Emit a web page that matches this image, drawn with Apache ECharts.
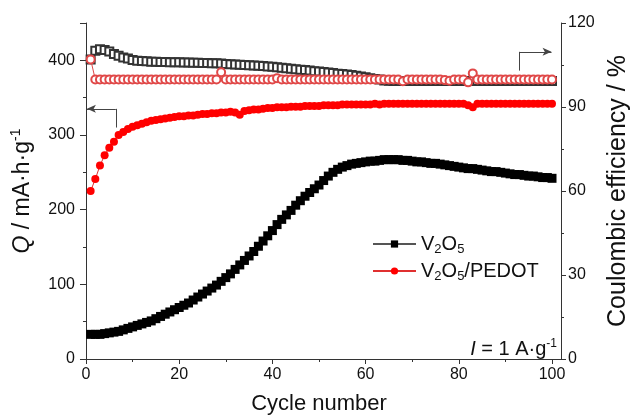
<!DOCTYPE html>
<html><head><meta charset="utf-8">
<script src="https://cdn.jsdelivr.net/npm/echarts@6/dist/echarts.min.js"></script>
<style>html,body{margin:0;padding:0;background:#fff}#c{width:630px;height:416px}</style>
</head><body><div id="c"></div>
<script>
const cycles = [1,2,3,4,5,6,7,8,9,10,11,12,13,14,15,16,17,18,19,20,21,22,23,24,25,26,27,28,29,30,31,32,33,34,35,36,37,38,39,40,41,42,43,44,45,46,47,48,49,50,51,52,53,54,55,56,57,58,59,60,61,62,63,64,65,66,67,68,69,70,71,72,73,74,75,76,77,78,79,80,81,82,83,84,85,86,87,88,89,90,91,92,93,94,95,96,97,98,99,100];
const capV2O5 = [33,33,33,34,35,36,37,39,41,43,
45,47,49,51,54,57,60,63,66,69,
72,75,79,83,87,91,95,99,104,109,
114,120,126,132,138,144,151,158,165,172,
180,187,193,199,206,212,218,223,228,233,
239,245,250,254,257,259,261,262,263,264,
265,265,266,267,267,267,267,266,266,265,
264,264,263,262,262,261,260,259,258,257,
256,255,255,254,253,252,251,251,250,249,
248,247,247,246,245,245,244,243,243,242];
const capPEDOT = [225,241,259,273,283,291,300,304,308,311,
313,315,317,319,320,321,322,323,324,325,
325,326,326,327,328,328,329,329,330,330,
331,330,327,332,333,334,334,335,336,336,
337,337,337,338,338,338,339,339,339,339,
340,340,340,340,341,341,341,341,341,341,
341,342,341,342,342,342,342,342,342,342,
342,342,342,342,342,342,342,342,342,342,
342,340,337,342,342,342,342,342,342,342,
342,342,342,342,342,342,342,342,342,342];
const ceV2O5 = [107.0,110.1,110.6,110.4,109.8,108.9,108.3,107.7,107.3,106.8,
106.5,106.4,106.3,106.2,106.2,106.1,106.1,106.0,106.0,106.0,
105.9,105.9,105.8,105.8,105.7,105.7,105.6,105.6,105.5,105.4,
105.3,105.2,105.1,105.0,104.9,104.8,104.7,104.6,104.5,104.4,
104.2,104.0,103.8,103.7,103.5,103.3,103.2,103.0,102.8,102.7,
102.5,102.3,102.1,101.9,101.8,101.6,101.4,101.2,100.9,100.6,
100.3,100.0,99.8,99.5,99.4,99.3,99.3,99.3,99.3,99.3,
99.3,99.3,99.3,99.3,99.3,99.3,99.3,99.3,99.3,99.3,
99.3,99.3,99.3,99.3,99.3,99.3,99.3,99.3,99.3,99.3,
99.3,99.3,99.3,99.3,99.3,99.3,99.3,99.3,99.3,99.3];
const cePEDOT = [107.0,99.8,99.8,99.8,99.8,99.8,99.8,99.8,99.8,99.8,
99.8,99.8,99.8,99.8,99.8,99.8,99.8,99.8,99.8,99.8,
99.8,99.8,99.8,99.8,99.8,99.8,99.8,99.8,102.4,99.8,
99.8,99.8,99.8,99.8,99.8,99.8,99.8,99.8,99.8,99.8,
100.3,99.8,99.8,99.8,99.8,99.8,99.8,99.8,99.8,99.8,
99.8,99.8,99.8,99.8,99.8,99.8,99.8,99.8,99.8,99.8,
99.8,99.8,99.8,99.8,99.8,99.8,99.8,99.2,99.8,99.8,
99.8,99.8,99.8,99.8,99.8,99.8,99.6,99.4,99.8,99.8,
99.8,98.8,102.0,99.8,99.8,99.8,99.8,99.8,99.8,99.8,
99.8,99.8,99.8,99.8,99.8,99.8,99.8,99.8,99.8,99.8];
const xTicks = [0, 100, 20];      // min, max, step
const yLeftTicks = [0, 450, 100];
const yRightTicks = [0, 120, 30];
const seriesNames = ['V2O5', 'V2O5/PEDOT'];
// annotation arrows (data space)
const arrowLeft = {x0: 6.4, xTip: 0.2, y: 335, yEnd: 310};
const arrowRight = {x0: 93, xTip: 99.9, y: 109.7, yEnd: 103};

const FF = "'Liberation Sans', Arial, sans-serif";
const pair = (ys) => cycles.map((c, i) => [c, ys[i]]);
const axisCol = '#333';

const chart = echarts.init(document.getElementById('c'), null, {renderer: 'canvas'});
chart.setOption({
  animation: false,
  backgroundColor: '#fff',
  textStyle: {fontFamily: FF},
  grid: [
    {left: 81, right: 69, top: 23, bottom: 57, outerBoundsMode: 'none'},
    {left: 86, right: 78, top: 23, bottom: 57, outerBoundsMode: 'none'}
  ],
  legend: {
    data: seriesNames,
    orient: 'vertical',
    left: 372, top: 234, padding: 0,
    itemWidth: 43, itemHeight: 9, itemGap: 5,
    formatter: function (n) {
      return n === 'V2O5' ? '{a|V}{b|2}{a|O}{b|5}' : '{a|V}{b|2}{a|O}{b|5}{a|/PEDOT}';
    },
    textStyle: {
      fontFamily: FF, color: '#111', fontSize: 20,
      rich: {
        a: {fontSize: 20, lineHeight: 24, fontFamily: FF, color: '#111'},
        b: {fontSize: 13, lineHeight: 12, verticalAlign: 'bottom', fontFamily: FF, color: '#111'}
      }
    }
  },
  xAxis: [
    {gridIndex: 0, type: 'value', min: -1.07, max: 101.93,
     axisLine: {show: true, onZero: false, lineStyle: {color: axisCol, width: 1}},
     axisTick: {show: false}, axisLabel: {show: false}, splitLine: {show: false}},
    {gridIndex: 1, type: 'value', min: xTicks[0], max: xTicks[1], interval: xTicks[2],
     axisLine: {show: false, onZero: false},
     axisTick: {show: true, length: 5, lineStyle: {color: axisCol}},
     minorTick: {show: true, splitNumber: 2, length: 3, lineStyle: {color: axisCol}},
     axisLabel: {fontSize: 16, color: '#111', margin: 8, fontFamily: FF},
     splitLine: {show: false}, minorSplitLine: {show: false},
     name: 'Cycle number', nameLocation: 'middle', nameGap: 34,
     nameTextStyle: {fontSize: 22, color: '#111', fontFamily: FF}}
  ],
  yAxis: [
    {gridIndex: 0, type: 'value', position: 'left', min: yLeftTicks[0], max: yLeftTicks[1], interval: yLeftTicks[2],
     axisLine: {show: true, lineStyle: {color: axisCol}},
     axisTick: {show: true, length: 6, lineStyle: {color: axisCol}},
     minorTick: {show: true, splitNumber: 2, length: 3, lineStyle: {color: axisCol}},
     axisLabel: {fontSize: 16, color: '#111', margin: 6, fontFamily: FF, showMaxLabel: false},
     splitLine: {show: false}, minorSplitLine: {show: false},
     name: '{i|Q} / mA·h·g{s|-1}', nameLocation: 'middle', nameGap: 45, nameRotate: 90,
     nameTextStyle: {fontSize: 23, color: '#111', fontFamily: FF,
       rich: {
         i: {fontSize: 23, fontStyle: 'italic', fontFamily: FF, color: '#111', lineHeight: 27},
         s: {fontSize: 14, verticalAlign: 'top', lineHeight: 13, fontFamily: FF, color: '#111'}
       }}},
    {gridIndex: 0, type: 'value', position: 'right', min: yRightTicks[0], max: yRightTicks[1], interval: yRightTicks[2],
     axisLine: {show: true, lineStyle: {color: axisCol}},
     axisTick: {show: true, length: 5, lineStyle: {color: axisCol}},
     minorTick: {show: true, splitNumber: 2, length: 3, lineStyle: {color: axisCol}},
     axisLabel: {fontSize: 16, color: '#111', margin: 7, fontFamily: FF},
     splitLine: {show: false}, minorSplitLine: {show: false},
     name: 'Coulombic efficiency / %', nameLocation: 'middle', nameGap: 44, nameRotate: 90,
     nameTextStyle: {fontSize: 25, color: '#111', fontFamily: FF}},
    {gridIndex: 1, type: 'value', show: false, min: 0, max: 1}
  ],
  series: [
    {name: 'CE V2O5', type: 'line', xAxisIndex: 0, yAxisIndex: 1, data: pair(ceV2O5),
     symbol: 'emptyRect', symbolSize: 8, showAllSymbol: true,
     itemStyle: {color: '#333', borderWidth: 1}, lineStyle: {color: '#333', width: 1}, z: 2},
    {name: 'CE V2O5/PEDOT', type: 'line', xAxisIndex: 0, yAxisIndex: 1, data: pair(cePEDOT),
     symbol: 'emptyCircle', symbolSize: 8, showAllSymbol: true,
     itemStyle: {color: '#e04848', borderWidth: 1}, lineStyle: {color: '#e04848', width: 1}, z: 3,
     markLine: {silent: true, animation: false, label: {show: false},
       lineStyle: {color: '#444', width: 1, type: 'solid'},
       data: [
         [{coord: [arrowRight.x0, arrowRight.yEnd], symbol: 'none'}, {coord: [arrowRight.x0, arrowRight.y], symbol: 'none'}],
         [{coord: [arrowRight.x0, arrowRight.y], symbol: 'none'}, {coord: [arrowRight.xTip, arrowRight.y], symbol: 'arrow', symbolSize: [6, 9]}]
       ]}},
    {name: 'V2O5', type: 'line', xAxisIndex: 0, yAxisIndex: 0, data: pair(capV2O5),
     symbol: 'rect', symbolSize: 9, showAllSymbol: true,
     itemStyle: {color: '#000'}, lineStyle: {color: '#555', width: 1}, z: 4},
    {name: 'V2O5/PEDOT', type: 'line', xAxisIndex: 0, yAxisIndex: 0, data: pair(capPEDOT),
     symbol: 'circle', symbolSize: 8, showAllSymbol: true,
     itemStyle: {color: '#ff0000'}, lineStyle: {color: '#e03030', width: 1}, z: 5,
     markLine: {silent: true, animation: false, label: {show: false},
       lineStyle: {color: '#444', width: 1, type: 'solid'},
       data: [
         [{coord: [arrowLeft.x0, arrowLeft.yEnd], symbol: 'none'}, {coord: [arrowLeft.x0, arrowLeft.y], symbol: 'none'}],
         [{coord: [arrowLeft.x0, arrowLeft.y], symbol: 'none'}, {coord: [arrowLeft.xTip, arrowLeft.y], symbol: 'arrow', symbolSize: [6, 9]}]
       ]}}
  ],
  graphic: [{
    type: 'text', right: 73, bottom: 57,
    style: {
      text: '{i|I} = 1 A·g{s|-1}',
      fontFamily: FF, fontSize: 20, fill: '#111',
      rich: {
        i: {fontSize: 20, fontStyle: 'italic', fontFamily: FF, fill: '#111', lineHeight: 22},
        s: {fontSize: 12, verticalAlign: 'top', lineHeight: 12, fontFamily: FF, fill: '#111'}
      }
    }
  }]
});
</script></body></html>
